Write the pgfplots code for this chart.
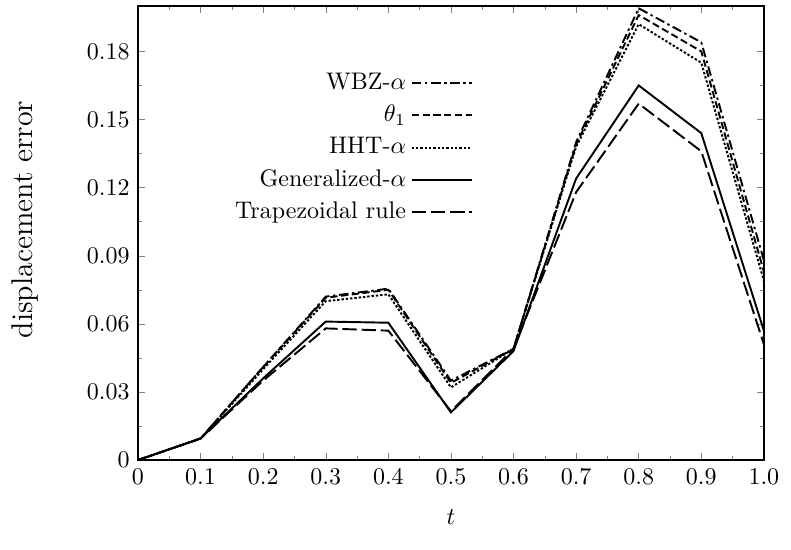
\documentclass[border=0pt]{standalone}
\usepackage{pgfplots}
\pgfplotsset{compat=1.18}
\begin{document}
\begin{tikzpicture}
\path[use as bounding box] (-57.5pt,-37.1pt) rectangle (272.1pt,191.7pt);
\begin{axis}[
  at={(0,0)}, anchor=south west,
  scale only axis,
  width=260.8pt, height=189.2pt,
  xmin=0, xmax=1, ymin=0, ymax=0.2,
  xtick={0,0.1,0.2,0.3,0.4,0.5,0.6,0.7,0.8,0.9,1.0},
  xticklabels={0,0.1,0.2,0.3,0.4,0.5,0.6,0.7,0.8,0.9,1.0},
  ytick={0,0.03,0.06,0.09,0.12,0.15,0.18},
  yticklabels={0,0.03,0.06,0.09,0.12,0.15,0.18},
  minor x tick num=1, minor y tick num=1,
  tick align=inside,
  major tick length=3pt, minor tick length=1.5pt,
  axis line style={line width=0.8pt},
  xlabel={$t$},
  ylabel={displacement error},
  xlabel style={at={(axis description cs:0.5,-0.126)}, anchor=center},
  ylabel style={at={(axis description cs:-0.18,0.53)}, anchor=center, rotate=0, font=\fontsize{12.5}{15}\selectfont},
  legend plot pos=right,
  legend cell align=right,
  legend style={draw=none, fill=none, at={(axis description cs:0.547,0.874)}, anchor=north east, font=\normalsize, row sep=1pt},
  legend image code/.code={\draw[#1] (0pt,0pt) -- (25pt,0pt);},
  every axis plot/.append style={line width=0.8pt, black},
]
\addplot[dash pattern=on 4pt off 1.5pt on 1pt off 1.5pt] coordinates {
(0,0) (0.1,0.0095) (0.2,0.041) (0.3,0.072) (0.4,0.0755) (0.5,0.035) (0.6,0.049) (0.7,0.140) (0.8,0.199) (0.9,0.184) (1.0,0.088)};
\addlegendentry{WBZ-$\alpha$}
\addplot[dash pattern=on 3pt off 1.5pt] coordinates {
(0,0) (0.1,0.0095) (0.2,0.041) (0.3,0.0715) (0.4,0.075) (0.5,0.034) (0.6,0.049) (0.7,0.139) (0.8,0.196) (0.9,0.180) (1.0,0.083)};
\addlegendentry{$\theta_1$}
\addplot[dash pattern=on 1pt off 0.8pt] coordinates {
(0,0) (0.1,0.0095) (0.2,0.040) (0.3,0.070) (0.4,0.073) (0.5,0.032) (0.6,0.049) (0.7,0.138) (0.8,0.192) (0.9,0.175) (1.0,0.079)};
\addlegendentry{HHT-$\alpha$}
\addplot[solid] coordinates {
(0,0) (0.1,0.0095) (0.2,0.036) (0.3,0.061) (0.4,0.0605) (0.5,0.021) (0.6,0.048) (0.7,0.124) (0.8,0.165) (0.9,0.144) (1.0,0.057)};
\addlegendentry{Generalized-$\alpha$}
\addplot[dash pattern=on 6pt off 2pt] coordinates {
(0,0) (0.1,0.0095) (0.2,0.035) (0.3,0.058) (0.4,0.057) (0.5,0.0215) (0.6,0.049) (0.7,0.118) (0.8,0.157) (0.9,0.136) (1.0,0.051)};
\addlegendentry{Trapezoidal rule}
\end{axis}
\end{tikzpicture}
\end{document}
